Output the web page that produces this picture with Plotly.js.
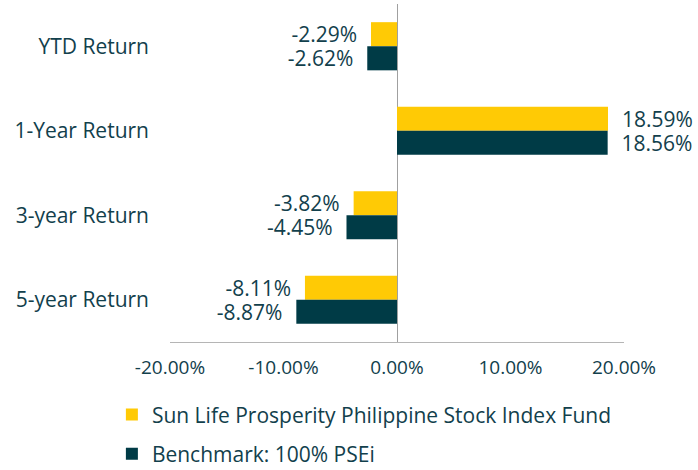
<!DOCTYPE html>
<html>
<head>
<meta charset="utf-8">
<script src="https://cdn.plot.ly/plotly-3.0.1.min.js"></script>
<style>html,body{margin:0;padding:0;background:#fff;}#chart{width:698px;height:470px;}</style>
</head>
<body>
<div id="chart"></div>
<script>
const categories = ["YTD Return", "1-Year Return", "3-year Return", "5-year Return"];
const fundName = "Sun Life Prosperity Philippine Stock Index Fund";
const benchName = "Benchmark: 100% PSEi";
const fundValues = [-2.29, 18.59, -3.82, -8.11];
const benchValues = [-2.62, 18.56, -4.45, -8.87];
const xTickVals = [-20, -10, 0, 10, 20];
const xTickText = ["-20.00%", "-10.00%", "0.00%", "10.00%", "20.00%"];

const FONT = "Open Sans, Noto Sans, sans-serif";
const TXT = "#12404c";
const PAD = "\u00a0\u00a0";
function labels(vals) {
  return vals.map(v => v < 0 ? (v.toFixed(2) + "%" + PAD) : (PAD + v.toFixed(2) + "%"));
}

const traces = [
  {
    type: "bar", orientation: "h", name: fundName, legendgroup: "a",
    y: categories, x: fundValues,
    marker: {color: "#FFCA05"},
    text: labels(fundValues), textposition: "outside", constraintext: "none", cliponaxis: false,
    textfont: {family: FONT, size: 21, color: TXT},
    hoverinfo: "none"
  },
  {
    type: "bar", orientation: "h", name: benchName, legendgroup: "b",
    y: categories, x: benchValues,
    marker: {color: "#003B46"},
    text: labels(benchValues), textposition: "outside", constraintext: "none", cliponaxis: false,
    textfont: {family: FONT, size: 21, color: TXT},
    hoverinfo: "none"
  }
];

const layout = {
  width: 698, height: 470,
  margin: {l: 170, r: 74, t: 4, b: 128, autoexpand: false},
  paper_bgcolor: "#fff", plot_bgcolor: "#fff",
  font: {family: FONT, color: TXT, size: 18},
  barmode: "group", bargap: 0.43, bargroupgap: 0,
  showlegend: true,
  xaxis: {
    range: [-20, 20], tickvals: xTickVals, ticktext: xTickText,
    showgrid: false, zeroline: true, zerolinecolor: "#a0a0a0", zerolinewidth: 1,
    showline: true, linecolor: "#b5b5b5", linewidth: 1,
    ticks: "", ticklabelstandoff: 8,
    tickfont: {family: FONT, size: 19, color: TXT},
    fixedrange: true
  },
  yaxis: {
    type: "category", autorange: "reversed",
    showgrid: false, zeroline: false, showline: false, ticks: "",
    ticklabelstandoff: 20,
    tickfont: {family: FONT, size: 21, color: TXT},
    fixedrange: true
  },
  legend: {
    orientation: "v", x: -0.128, xanchor: "left", y: -0.155, yanchor: "top",
    traceorder: "grouped", tracegroupgap: 9,
    font: {family: FONT, size: 21, color: TXT},
    itemwidth: 30, bgcolor: "rgba(0,0,0,0)"
  }
};

Plotly.newPlot("chart", traces, layout, {displayModeBar: false, staticPlot: true});
</script>
</body>
</html>
